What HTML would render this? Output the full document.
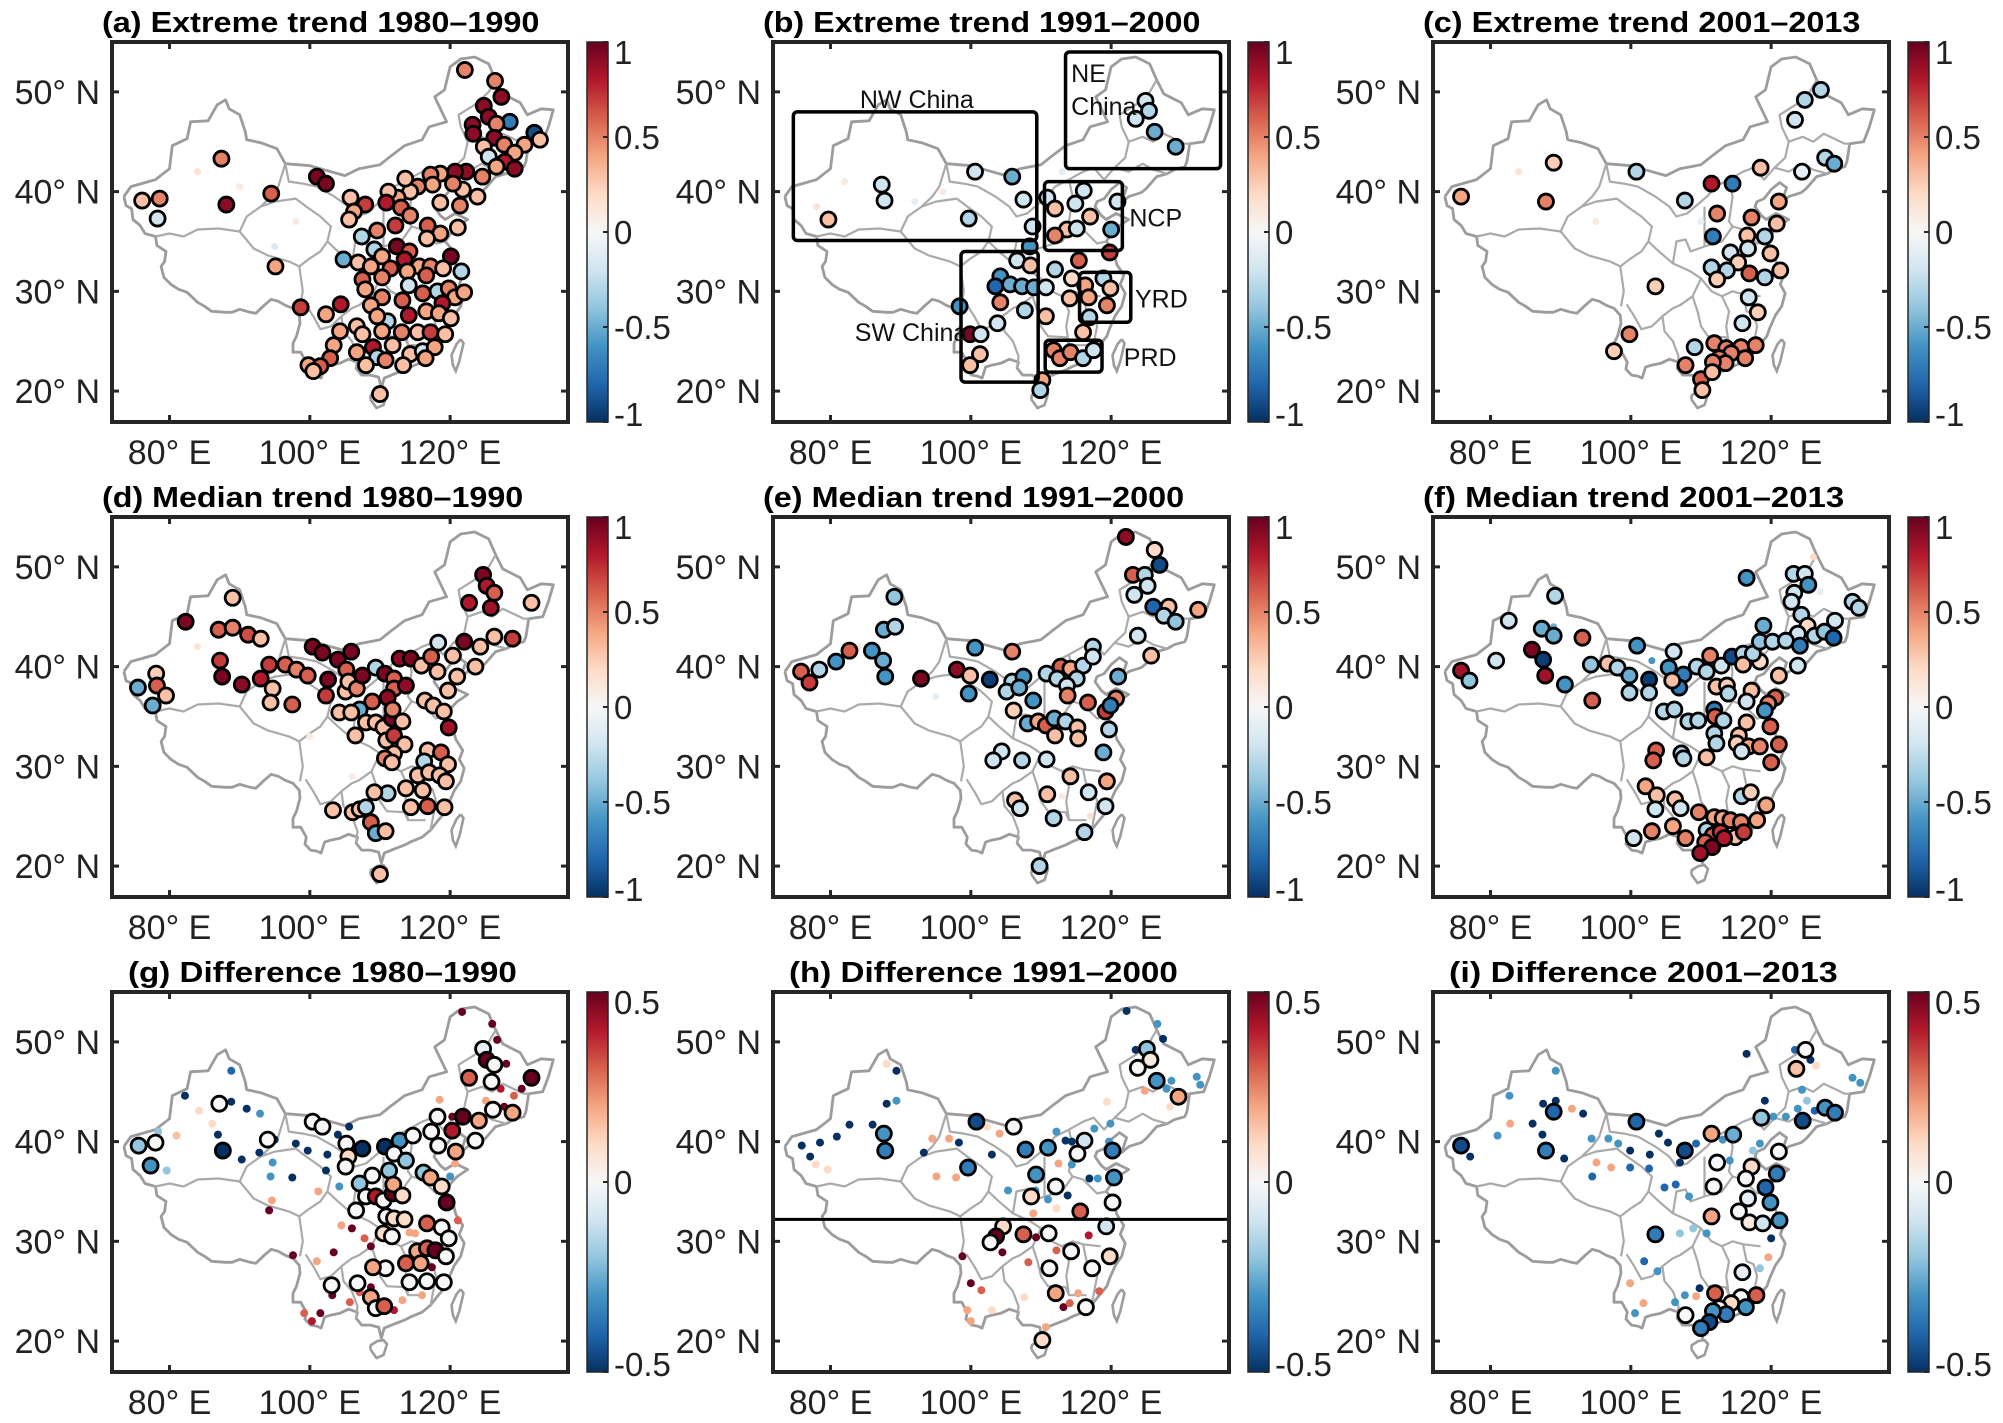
<!DOCTYPE html>
<html><head><meta charset="utf-8">
<style>
html,body{margin:0;padding:0;background:#fff;}
svg{display:block;}
text{font-family:"Liberation Sans",Arial,sans-serif;}
</style></head>
<body>
<svg id="fig" width="2003" height="1423" viewBox="0 0 2003 1423" xmlns="http://www.w3.org/2000/svg">
<defs>
<linearGradient id="rdbu" x1="0" y1="1" x2="0" y2="0">
<stop offset="0" stop-color="#053061"/><stop offset="0.1" stop-color="#2166ac"/><stop offset="0.2" stop-color="#4393c3"/><stop offset="0.3" stop-color="#92c5de"/><stop offset="0.4" stop-color="#d1e5f0"/><stop offset="0.5" stop-color="#f7f7f7"/><stop offset="0.6" stop-color="#fddbc7"/><stop offset="0.7" stop-color="#f4a582"/><stop offset="0.8" stop-color="#d6604d"/><stop offset="0.9" stop-color="#b2182b"/><stop offset="1" stop-color="#67001f"/>
</linearGradient>
</defs>
</svg>
<script>
const lonTicks=[80,100,120];
const latTicks=[20,30,40,50];
const cbTrendTicks=[1,0.5,0,-0.5,-1];
const cbDiffTicks=[0.5,0,-0.5];
const titles=["(a) Extreme trend 1980–1990","(b) Extreme trend 1991–2000","(c) Extreme trend 2001–2013","(d) Median trend 1980–1990","(e) Median trend 1991–2000","(f) Median trend 2001–2013","(g) Difference 1980–1990","(h) Difference 1991–2000","(i) Difference 2001–2013"];
const outline=[[73.5,39.5],[74.5,40.5],[76,40.8],[78,41.2],[80,42.3],[80.4,44.6],[82.5,45.3],[83,47],[85.5,47.1],[86.8,48.7],[88,49.2],[88.5,48.3],[90,47.7],[90.8,46],[91,45.2],[93,44.9],[95.3,44.3],[96.5,42.8],[100,42.6],[102,42.2],[105,41.6],[107,42.3],[110,42.7],[111.8,43.7],[113.5,44.6],[116,45.2],[117,46.5],[119.5,47],[117.8,49.5],[119.2,50.2],[120,52.5],[121.5,53.3],[123.5,53.5],[125.5,52.8],[126.5,51.2],[127.5,49.8],[130,48.9],[131,47.7],[133,48.3],[134.7,48.2],[134,46.5],[133.2,45],[131.2,44.8],[130.8,43],[130.5,42.5],[129,42.2],[128,41.8],[126.5,41.5],[125,40.3],[124.3,39.9],[122.5,39.5],[121.5,38.9],[122.2,40.4],[121.2,40.9],[120,40.2],[119,39.3],[118,39],[117.7,38.5],[118.6,37.6],[119.3,37.2],[120.7,37.8],[122.5,37.2],[121,36.5],[120.2,35.9],[119.3,35],[120.3,34.2],[120.8,32.7],[121.8,31.6],[121.3,30.7],[122,29.8],[121.5,28.5],[120.6,27.6],[119.8,26.3],[119.4,25.5],[118.2,24.5],[117.2,23.6],[116,22.9],[114.3,22.4],[113.5,22.1],[112,21.7],[110.6,21.3],[110.2,20.3],[109.8,21.4],[108.6,21.6],[107.4,21.6],[106.6,22.3],[106.8,22.9],[105.5,23.2],[104.3,22.8],[103,22.6],[102.1,22.4],[101.6,21.3],[101,21.5],[100.1,21.6],[99.3,22.2],[99.5,22.9],[98.7,23.9],[97.6,23.9],[97.6,24.8],[98.1,25.5],[98.6,26.8],[98.5,27.6],[97.6,28.3],[96.5,28.6],[95.5,29],[94.5,29.2],[93.5,28.6],[92.3,27.8],[91.5,27.9],[90,28.2],[88.9,27.9],[88,27.9],[86,28],[85,28.5],[84,28.9],[82.5,29.9],[81.3,30.2],[80.2,30.7],[79.2,31.4],[78.8,32.5],[79.3,33],[79.5,34],[78.2,34.6],[78,35.5],[76.5,35.8],[75.8,36.6],[74.8,37.2],[74.6,38.3],[73.8,38.6],[73.5,39.5]];
const hainan=[[108.6,19.2],[109.5,18.3],[110.5,18.6],[111,19.7],[110.5,20.1],[109.6,20],[108.7,19.6],[108.6,19.2]];
const taiwan=[[121.5,25.2],[121.9,24.8],[121.3,23],[120.8,22],[120.4,22.6],[120.2,23.6],[120.9,24.7],[121.5,25.2]];
const borders=[
[[78,35.5],[80,35.8],[82,35.5],[84,36.2],[87,36.3],[90,36],[91,37.5],[93,38.5],[94.5,39.5],[95.5,40.5],[96.5,42.8]],
[[90,36],[92,34.3],[94,33.6],[97,33],[98.5,32.5],[99,30],[98.6,28.5]],
[[93,38.5],[95,39],[98,39.3],[99.5,38.5],[101.5,37.5],[103,36.5],[102.5,35],[101.5,34],[100,33.3],[98.5,32.5]],
[[96.5,42.8],[97,41],[99,40.8],[101,40.5],[103.5,39.5],[105.5,38.5],[106.5,37.5],[108,37.8],[110,39],[111,39.6],[112,40.5],[114,41.2],[116,42],[117.5,42.4],[119,41.2],[120.5,42.4],[122,43.4],[122.5,45],[121.5,46.5],[121.2,47.7],[123.5,48.7],[125.5,50],[126.5,51.2]],
[[102.5,35],[104,34],[106,32.8],[108.5,32],[110,31.3],[108.8,29.5],[107,28.6],[106,28.3],[104.5,27.5],[103,26.5],[101.5,26.2],[100.5,27.5],[99.4,28.7]],
[[104.5,27.5],[104.8,26],[106,25],[106.8,23.5],[106.6,22.3]],
[[106,32.8],[106.5,35],[107.8,35.2],[108.5,34],[110.5,34.5],[110.5,36],[110.5,38.5]],
[[110,31.3],[111.5,30],[113,29.5],[114.5,30],[116,29.7],[118.5,29.5]],
[[108.8,29.5],[109.5,28],[110,26.5],[111,25.5],[113.5,25.4],[114,24.6],[116.5,24.6]],
[[113,29.5],[114,28],[113.6,26.5],[114,24.6]],
[[116,29.7],[116.5,28],[117.5,27.7],[118,26.5],[117.2,23.6]],
[[110.5,34.5],[113,35],[114.5,36.5],[116,36.2],[118,34.8],[119.3,35]],
[[114,41.2],[114.5,39.5],[114,37],[114.5,36.5]],
[[120.5,42.4],[122.5,42],[124.5,42.8],[126,42.2],[128,41.8]],
[[122.5,45],[124.5,45.5],[126,45],[127.5,45.8],[130.5,44.8],[131.2,44.8]]
];
const dataA=[[122.1,52.2,.5,1],[126.4,51.1,.5,1],[127.3,49.5,.9,1],[124.8,48.6,.9,1],[125.5,47.5,.9,1],[128.5,47,-.7,1],[126.6,46.8,.5,1],[123.2,46.7,.9,1],[123.3,45.8,.9,1],[126.3,45.4,.9,1],[127.7,44.7,.5,1],[130.6,44.7,.4,1],[132,45.9,-.9,1],[132.8,45.2,.3,1],[124.8,44.5,.3,1],[125.5,43.5,-.2,1],[129.2,43.9,.4,1],[127.8,43,.8,1],[129.2,42.3,.9,1],[126.6,42.5,.4,1],[124.6,41.5,.5,1],[122.3,42,.9,1],[120.7,42,.9,1],[123.9,39.5,.3,1],[121.4,38.6,.5,1],[118.6,38.9,.3,1],[121.8,40.2,.3,1],[120.4,40.8,.5,1],[118.6,41.8,.4,1],[117.2,41.7,.5,1],[117.5,40.7,.4,1],[115.4,40.5,.5,1],[114.3,40,.3,1],[112.5,39.4,.4,1],[111.2,40,.3,1],[113.6,41.3,.3,1],[101,41.5,.95,1],[102.3,40.8,.95,1],[105.8,39.4,.3,1],[107.9,38.7,.7,1],[106.3,38,.4,1],[105.6,37.2,.3,1],[110.9,38.9,.8,1],[113,38.4,.6,1],[114.3,37.6,.5,1],[116.8,36.6,.6,1],[118.6,35.8,.4,1],[116.7,35.3,.3,1],[121.1,36.4,.3,1],[120.1,33.5,.95,1],[112.2,36.6,.7,1],[109.6,36.1,.5,1],[107.4,35.5,-.3,1],[109.2,34.2,-.3,1],[112.4,34.5,.95,1],[114.2,34,.6,1],[110.3,33.5,.4,1],[113.5,33.2,.8,1],[115.6,32.5,.4,1],[117.2,32.5,.5,1],[119,32.3,.3,1],[121.6,32,-.3,1],[104.8,33.2,-.5,1],[106.9,32.9,.3,1],[108.7,32.5,.4,1],[111.5,32.3,.6,1],[113.9,32,.4,1],[107.5,31.2,.6,1],[110.3,31.4,.5,1],[114.1,30.6,-.2,1],[116.6,31.6,.6,1],[118.2,30,-.3,1],[119.8,30.3,.5,1],[120.7,29.4,.4,1],[122,29.9,.4,1],[107.9,30.2,.4,1],[110.3,29.4,.5,1],[113.2,29.1,.6,1],[116.1,29.8,.6,1],[118.9,28.8,.8,1],[98.7,28.4,.7,1],[104.4,28.7,.8,1],[102.3,27.7,.4,1],[108.7,28.6,.4,1],[114.1,27.6,.8,1],[116.6,28,.4,1],[118.4,27.8,.4,1],[120.1,27.3,.3,1],[111.1,27,-.3,1],[109.6,27.5,.4,1],[106.7,26.5,.3,1],[104.3,26,.4,1],[107.5,25.7,.3,1],[110.3,26,.4,1],[113.1,25.9,.5,1],[115.4,25.9,.3,1],[117.2,25.9,.7,1],[119.3,25.7,.3,1],[103.4,24.6,.4,1],[106.7,23.9,.4,1],[109,24.4,.8,1],[111.8,24.6,.3,1],[114.3,23.7,.3,1],[116.1,24,-.2,1],[117.8,24.4,.4,1],[109.6,23.4,-.3,1],[110.8,23.1,.5,1],[113.3,22.6,.3,1],[116.5,23.3,.4,1],[108,22.6,.3,1],[102.9,23.3,.6,1],[99.8,22.6,.4,1],[101.5,22.5,.6,1],[100.5,22,.3,1],[110,19.7,.3,1],[87.4,43.3,.5,1],[76.1,39.1,.3,1],[78.6,39.3,.5,1],[88.1,38.7,.9,1],[78.3,37.3,-.2,1],[94.5,39.8,.6,1],[95.1,32.5,.4,1],
[90,40.5,.1,0],[84,42,.15,0],[95,34.5,-.15,0],[98,37,.1,0]];
const dataB=[[79.7,37.2,.3,1],[87.3,40.7,-.2,1],[87.7,39.1,-.2,1],[100.6,42,-.2,1],[105.9,41.5,-.5,1],[99.7,37.3,-.3,1],[107.5,39.2,-.2,1],[108.8,36.5,-.2,1],[124.9,49.1,-.2,1],[125.4,48.1,-.3,1],[123.5,47.3,-.2,1],[126.2,46,-.5,1],[129.2,44.5,-.5,1],[116.1,40.1,-.2,1],[114.9,38.8,-.2,1],[110.9,39.4,-.2,1],[120.9,39,-.2,1],[112,38.3,.3,1],[117,37.5,.3,1],[113.7,36.2,.3,1],[115.1,36.3,-.2,1],[112,35.6,.5,1],[120,36.2,-.5,1],[108.4,34.5,-.6,1],[119.8,33.9,.7,1],[115.4,33.1,.6,1],[106.6,33.1,-.2,1],[108.5,32.6,.3,1],[112,32.2,-.3,1],[114.4,31.3,.2,1],[104.2,31.5,-.6,1],[103.5,30.5,-.8,1],[105.6,30.7,-.5,1],[107.3,30.5,-.5,1],[109,30.4,-.5,1],[110.7,30.4,-.2,1],[116.3,30.6,.4,1],[118.9,31.3,-.3,1],[119.9,30.3,.3,1],[116.8,29.4,.4,1],[114.1,29.3,.3,1],[119.4,28.6,.5,1],[104.2,28.9,.5,1],[107.7,28.1,-.3,1],[103.8,26.8,-.2,1],[110.7,27.5,.3,1],[98.4,28.5,-.6,1],[99.9,25.7,.95,1],[101.4,25.7,-.2,1],[116,25.9,.3,1],[116.9,27.4,-.3,1],[101.3,23.7,.3,1],[99.9,22.6,.3,1],[111.8,24.1,.5,1],[112.7,23.3,.5,1],[114.2,23.9,.5,1],[116,23.3,-.3,1],[117.5,24.1,-.2,1],[110.2,21.1,.4,1],[109.9,20.1,-.3,1],
[82,41,.1,0],[92,39,-.1,0],[96,40,.1,0],[78,38.5,.15,0],[113,42,-.1,0]];
const dataC=[[75.8,39.5,.4,1],[89,42.9,.25,1],[87.9,39,.5,1],[100.8,42,-.3,1],[107.7,39.1,-.3,1],[103.5,30.5,.25,1],[99.8,25.7,.5,1],[97.6,24,.25,1],[127.1,50.2,-.3,1],[124.8,49.2,-.3,1],[123.4,47.2,-.2,1],[127.7,43.4,-.3,1],[129,42.8,-.5,1],[118.5,42.4,.3,1],[124.4,42,-.1,1],[111.5,40.8,.8,1],[114.5,40.8,-.7,1],[121.1,39,.4,1],[112.3,37.8,.5,1],[117.2,37.4,.5,1],[120.8,36.8,.3,1],[111.7,35.5,-.7,1],[116.6,35.6,.3,1],[119.1,35.5,-.3,1],[116.7,34.3,-.2,1],[114.2,33.9,-.2,1],[119.9,33.8,.3,1],[115.3,32.9,.25,1],[111.5,32.4,-.3,1],[113.7,32.1,-.3,1],[116.9,31.8,.6,1],[119.1,31.4,-.3,1],[121.3,32.1,.3,1],[112.3,31.2,.25,1],[116.8,29.4,-.2,1],[118.1,27.9,.25,1],[115.9,26.8,-.2,1],[109.1,24.4,-.3,1],[111.9,24.8,.5,1],[113.6,24.3,.5,1],[115.7,24.4,.5,1],[117.8,24.6,.5,1],[116.3,23.3,.5,1],[114.3,23.8,.5,1],[112.6,23.3,.5,1],[113.5,22.8,.5,1],[111.7,22.9,.5,1],[107.8,22.6,.5,1],[110,21.2,.6,1],[111.6,21.9,.3,1],[110.2,20.1,.3,1],
[84,42,.15,0],[95,37,.1,0],[110,37,-.1,0]];
const dataD=[[89,46.9,.3,1],[82.3,44.5,.95,1],[87,43.7,.6,1],[89,43.9,.5,1],[91.2,43.2,.65,1],[93,42.8,.3,1],[78.1,39.3,.25,1],[75.5,37.9,-.5,1],[78.2,38.1,.6,1],[77.6,36.1,-.5,1],[79.5,37.1,.3,1],[87.2,40.6,.7,1],[87.5,39,.95,1],[90.3,38.2,.9,1],[93,38.8,.8,1],[94.2,40.2,.7,1],[96.5,40.2,.6,1],[98.1,39.7,.5,1],[99.7,39.1,.6,1],[94.7,37.8,.3,1],[94.4,36.4,.3,1],[97.5,36.2,.6,1],[100.4,42,.95,1],[101.8,41.4,.95,1],[104,40.7,.95,1],[105.9,41.5,.95,1],[105.2,39.7,.6,1],[102.6,38.7,.95,1],[102.3,37.1,.7,1],[105.1,37.5,.3,1],[105.5,38.5,.3,1],[106.7,37.8,.5,1],[107.5,39.1,.95,1],[109.4,39.9,-.3,1],[110.7,39.3,.95,1],[112,38.8,.6,1],[112,37.8,.6,1],[113.7,38.1,.9,1],[111.1,36.9,.9,1],[108.9,36.5,.6,1],[107.1,35.7,-.5,1],[104.2,35.4,.3,1],[105.9,35.4,.3,1],[108,34.4,.3,1],[109.4,34.4,.3,1],[110.5,33.9,.3,1],[111.7,34.8,.95,1],[111.8,35.7,.5,1],[113.2,34.5,.3,1],[106.5,33.1,.3,1],[110.9,32.6,.3,1],[112,33.1,.7,1],[113.5,32.2,.3,1],[112,31.3,.3,1],[110.7,30.8,.5,1],[111.7,30.4,.3,1],[112.8,40.8,.9,1],[114.4,40.8,.95,1],[115.9,40.1,.3,1],[117.3,41,.6,1],[118.3,42.4,-.2,1],[120.4,41.1,.3,1],[122,42.5,.95,1],[124.3,42,.3,1],[126.3,43,.3,1],[128.9,42.8,.7,1],[118.2,39.5,.3,1],[121,39,.3,1],[123.6,40,.3,1],[119.7,37.6,.3,1],[116.4,36.6,.3,1],[117.6,36.1,.3,1],[119.1,35.5,.3,1],[119.8,33.9,.85,1],[116.8,31.6,.3,1],[118.7,31.4,.6,1],[119.7,30.2,.3,1],[116.3,30.5,-.3,1],[115.4,29.1,.3,1],[117,29.4,.3,1],[118.5,29.1,.3,1],[119.4,28.5,.3,1],[113.7,27.8,.3,1],[116.1,27.6,.3,1],[111.1,27.3,-.3,1],[109.2,27.4,.3,1],[114.4,25.9,.3,1],[116.8,26,.6,1],[119.2,25.9,.3,1],[103.3,25.6,.3,1],[106.1,25.4,.3,1],[107.1,25.7,.3,1],[108,25.9,-.3,1],[108.7,24.4,.6,1],[109.4,23.3,-.5,1],[110.8,23.5,.3,1],[124.7,49.2,.95,1],[125.2,48.1,.8,1],[126.3,47.4,.6,1],[122.7,46.4,.8,1],[125.8,45.9,.85,1],[131.6,46.4,.3,1],[110,19.2,.3,1],
[84,42,.15,0],[100,33,.1,0],[113,28,.15,0],[106,29,.1,0]];
const dataE=[[122.1,53,.9,1],[126.2,51.7,.2,1],[126.9,50.2,-.9,1],[123.1,49.2,.6,1],[124.8,49.2,-.3,1],[125.2,48.1,-.2,1],[123.3,47.2,-.2,1],[126,46,-.8,1],[128.2,46,.3,1],[127.5,45.1,-.3,1],[129.2,44.5,-.4,1],[132.4,45.7,.4,1],[123.8,43.1,-.2,1],[125.7,41.1,.3,1],[89.1,47,-.4,1],[87.6,43.7,-.5,1],[89.2,44,-.3,1],[85.9,41.6,-.6,1],[87.5,40.6,-.5,1],[87.8,39,-.6,1],[82.7,41.6,.6,1],[80.8,40.5,-.6,1],[78.4,39.7,-.3,1],[75.8,39.5,.6,1],[77,38.4,.7,1],[92.9,38.8,.95,1],[100.6,41.9,-.6,1],[105.9,41.5,.5,1],[98,39.7,.9,1],[99.9,39.1,.3,1],[99.7,37.3,-.6,1],[102.7,38.7,-.95,1],[105.9,38.5,-.3,1],[107.5,39,-.6,1],[105.1,37.5,-.3,1],[106.9,37.9,-.5,1],[108.9,36.6,-.6,1],[106.1,35.6,.25,1],[110.8,39.3,-.3,1],[112.8,40,.6,1],[114.2,39.8,.4,1],[116,40.1,-.3,1],[117.4,42,-.3,1],[117.4,41,-.2,1],[112.3,38.8,-.3,1],[115.1,38.8,-.3,1],[113.7,38.1,-.2,1],[113.8,37.1,.5,1],[116.7,36.4,.6,1],[121,39,-.5,1],[120.7,36.8,.5,1],[119.2,35.5,.7,1],[119.9,36.1,-.7,1],[108.1,34.3,-.5,1],[109.6,34.5,.4,1],[110.7,34.1,.6,1],[111.9,34.8,-.5,1],[113.5,34.5,-.3,1],[112,33.1,.3,1],[115.2,33.9,.3,1],[115.3,32.8,.3,1],[119.7,33.7,-.3,1],[118.9,31.4,-.5,1],[104.4,31.5,-.2,1],[103.2,30.6,-.2,1],[107.3,30.6,-.3,1],[110.8,30.7,-.2,1],[114.2,29,.3,1],[119.4,28.5,.4,1],[116.8,27.4,-.2,1],[110.9,27.2,.3,1],[106.3,26.6,.3,1],[107,25.8,-.2,1],[111.8,24.8,-.3,1],[119.2,26,-.2,1],[116.2,23.4,-.3,1],[109.8,20,-.3,1],
[84,42,.1,0],[95,37,-.1,0],[113,27,.1,0],[117,25,.15,0]];
const dataF=[[89.2,47.1,-.3,1],[82.6,44.6,-.2,1],[87.3,43.8,-.5,1],[89,43.1,-.5,1],[93.1,42.9,.6,1],[80.8,40.6,-.2,1],[85.9,41.7,.95,1],[87.5,40.7,-.95,1],[87.8,39.1,.85,1],[75.8,39.6,.85,1],[77,38.6,-.4,1],[90.6,38.2,-.6,1],[94.5,36.6,.6,1],[94.3,40.2,-.4,1],[96.7,40.3,.3,1],[98.1,39.9,-.3,1],[99.8,39.1,-.5,1],[99.8,37.4,-.3,1],[100.9,42.1,-.6,1],[102.6,38.7,-.95,1],[102.6,37.4,-.3,1],[106.1,41.5,-.2,1],[105.4,39.9,-.6,1],[107.5,39.2,-.7,1],[106.9,37.9,-.7,1],[105.9,38.6,.3,1],[109.4,40,-.3,1],[110.8,39.5,-.3,1],[112.9,40.1,-.2,1],[111.3,41.1,.5,1],[114.4,41,-.9,1],[116,41.3,-.3,1],[116,40.2,.3,1],[118.4,40.5,.2,1],[117.4,41.3,-.3,1],[116.5,48.9,-.6,1],[123.2,49.3,-.3,1],[124.8,49.3,-.2,1],[125.3,48.2,-.6,1],[123.3,47.4,-.2,1],[122.9,46.5,-.2,1],[124.3,45.2,-.3,1],[125.2,44.1,.2,1],[123.8,43.3,-.2,1],[126.2,43.1,-.3,1],[127.6,43.5,-.4,1],[129.1,44.6,-.2,1],[128.9,42.9,-.8,1],[131.6,46.5,-.3,1],[132.5,45.9,-.3,1],[118.9,44.1,-.5,1],[118.4,42.5,-.4,1],[120.2,42.5,-.3,1],[122.1,42.6,-.3,1],[124.1,42.1,-.7,1],[123.8,40.1,-.2,1],[121.1,39.1,.3,1],[112.2,38,.3,1],[113.7,38.1,.25,1],[113.9,37.3,-.3,1],[117.2,37.6,.3,1],[116.5,36.5,-.2,1],[120.6,36.9,.6,1],[119.6,36.3,.5,1],[119.1,35.6,-.6,1],[111.9,35.7,-.7,1],[112,35,.6,1],[113.2,34.6,-.3,1],[116.5,34.4,.3,1],[119.9,34,.6,1],[104.7,35.5,-.3,1],[106.2,35.7,-.3,1],[108.2,34.5,-.3,1],[109.6,34.6,-.3,1],[111.9,33.3,-.3,1],[112.2,32.3,-.3,1],[115.4,33.1,.3,1],[115.1,32.3,.25,1],[116.8,32,.4,1],[118.4,32,.5,1],[121.1,32.2,.6,1],[115.8,31.5,-.2,1],[120,30.4,.6,1],[103.6,31.6,.6,1],[103.2,30.6,.6,1],[107.2,31.3,-.3,1],[107.5,30.8,-.3,1],[110.8,30.9,.3,1],[102.1,28,.4,1],[103.7,27.1,.3,1],[103.5,25.7,-.2,1],[106.3,26.7,.3,1],[107.1,25.8,-.2,1],[115.8,27,-.3,1],[117.1,27.4,.25,1],[119.3,26.1,.4,1],[109.7,25.4,.5,1],[111.9,24.9,.4,1],[113.1,24.8,.4,1],[114.2,24.6,.5,1],[115.7,24.4,.5,1],[118,24.6,.4,1],[103,23.5,.5,1],[106,24,.4,1],[107.8,22.8,.5,1],[110.8,23.6,-.3,1],[111.7,23.1,.6,1],[112.8,23.4,.7,1],[114.9,22.9,.3,1],[116.1,23.4,.7,1],[113.3,22.8,.8,1],[110.6,22.4,.6,1],[111.6,21.9,.95,1],[109.9,21.3,.85,1],[100.4,22.8,-.2,1],
[89,44,-.5,0],[103,40.6,-.6,0],[126,51,.2,0],[127,47.5,-.1,0]];
const dataG=[[124.7,49.3,-.05,1],[125.2,48.2,.5,1],[126.3,47.7,0,1],[122.7,46.4,.3,1],[125.9,46,0,1],[131.6,46.4,.5,1],[87.1,43.8,0,1],[78,39.9,0,1],[75.6,39.6,-.2,1],[77.3,37.6,-.3,1],[87.6,39.1,-.5,1],[94,40.2,0,1],[100.4,42,0,1],[101.8,41.5,0,1],[105.2,39.8,0,1],[107.5,39.3,-.5,1],[105.5,38.5,.1,1],[105.1,37.5,0,1],[110.7,39.5,-.5,1],[112.8,40.1,-.3,1],[112,38.8,0,1],[113.7,38.1,-.2,1],[111.3,37.1,-.2,1],[114.7,40.6,0,1],[118.2,42.5,0,1],[121.8,42.5,.5,1],[117.3,41,0,1],[120.3,41.1,.4,1],[118.3,39.6,0,1],[120.8,39,.2,1],[123.6,40.1,0,1],[124.1,42.1,.2,1],[126.1,43.2,0,1],[128.9,42.9,.2,1],[108.9,36.6,0,1],[107.1,35.8,-.2,1],[108,34.5,0,1],[109.4,34.5,.4,1],[110.5,34.1,0,1],[111.8,34.8,.5,1],[111.9,35.7,.2,1],[113.2,34.6,.1,1],[106.6,33.1,0,1],[110.9,32.5,0,1],[112,32.3,.1,1],[113.5,32.2,.1,1],[110.5,30.8,.1,1],[111.7,30.5,0,1],[116.2,36.9,-.2,1],[117.2,36.4,.2,1],[118.8,35.5,.1,1],[119.5,33.9,.5,1],[116.7,31.8,.3,1],[118.8,31.4,0,1],[119.8,30.3,0,1],[115.3,29,.2,1],[116.7,29.3,.3,1],[117.9,29.1,.5,1],[119.4,28.5,0,1],[113.7,27.8,.3,1],[115.8,27.8,.2,1],[110.8,27.3,0,1],[109,27.4,.2,1],[103.1,25.6,0,1],[106.8,25.8,0,1],[108.7,24.4,.2,1],[109.4,23.3,0,1],[110.6,23.5,.3,1],[114.2,25.9,0,1],[116.7,26,0,1],[119.1,25.9,0,1],
[121.7,53,.5,0],[126,51.8,.5,0],[126.7,50.2,.5,0],[128,47.8,.5,0],[130.2,45.3,.5,0],[127.2,45.3,.4,0],[118.5,44.2,.2,0],[125.1,44.1,.2,0],[129.1,44.6,.3,0],[88.8,47.1,-.4,0],[82.2,44.6,-.5,0],[88.8,44,-.5,0],[91,43.3,-.5,0],[92.9,42.8,-.3,0],[84.2,43.1,.1,0],[86.1,41.8,.1,0],[81,40.6,.15,0],[78.4,41,-.2,0],[86.9,40.7,-.5,0],[79.6,37.1,-.2,0],[90.3,38.2,-.5,0],[92.8,38.9,-.5,0],[94.7,37.9,-.3,0],[94.4,36.5,-.3,0],[97.5,36.4,-.5,0],[95,40.2,-.5,0],[98,39.8,-.5,0],[99.7,39.1,-.5,0],[102.5,38.7,-.5,0],[102.3,37.1,-.5,0],[105.6,41.5,-.5,0],[104,40.7,-.5,0],[104.2,35.5,-.3,0],[101.2,35,.2,0],[94.6,34.1,.2,0],[94.2,33.1,.5,0],[97.6,28.6,.5,0],[103.4,28.9,.5,0],[101,28,.2,0],[104.5,31.6,.2,0],[106,31.3,.5,0],[108.7,29.5,.5,0],[107.8,30.3,.3,0],[103.2,24.6,.5,0],[101.5,22.8,.5,0],[100.3,22,.4,0],[99.2,22.8,.3,0],[105.7,23.9,.3,0],[107.1,24.9,.3,0],[108.7,25.4,.5,0],[112,23.1,.4,0],[113.2,24.1,.2,0],[116,24.6,.2,0],[117.4,27.4,.5,0],[115,30.8,.2,0],[120,36.5,-.3,0],[120.7,37.8,.2,0],[120.3,42.5,.5,0],[127.7,43.5,.5,0],[114.2,30.9,.2,0],[121.1,32.1,.3,0]];
const dataH=[[125.1,49.3,-.2,1],[125.6,48.2,.05,1],[123.8,47.4,0,1],[126.5,46.1,-.3,1],[129.6,44.5,.2,1],[87.6,40.8,-.3,1],[87.8,39.1,-.35,1],[100.8,42,-.45,1],[106.1,41.5,0,1],[99.6,37.4,-.35,1],[107.8,39.2,-.35,1],[111,39.4,-.3,1],[116.2,40.1,-.1,1],[115.2,38.8,0,1],[120.2,39.1,-.35,1],[109.3,36.7,-.3,1],[112.1,35.5,0,1],[108.6,34.5,.1,1],[120.4,36.4,-.3,1],[120.2,33.9,0,1],[115.6,33,.3,1],[119.3,31.5,-.1,1],[104.6,31.5,.1,1],[103.6,30.5,.5,1],[102.8,29.9,0,1],[107.5,30.7,.3,1],[111.1,30.8,0,1],[114.3,29,0,1],[119.8,28.5,.1,1],[111.2,27.3,0,1],[117.3,27.3,0,1],[112.1,24.8,.2,1],[116.4,23.4,0,1],[110.2,20.1,.1,1],
[122.2,53.1,-.5,0],[127.4,50.3,-.5,0],[123.5,49.2,-.5,0],[126.6,51.8,-.3,0],[128.6,46.1,-.3,0],[132.2,46.5,-.3,0],[132.7,45.7,-.3,0],[127.9,45.3,-.3,0],[124.8,45.1,.2,0],[119.4,44,.1,0],[128.4,43.5,.1,0],[89.4,47.1,-.5,0],[88,47.8,.1,0],[89.4,44.1,-.3,0],[88,43.8,-.5,0],[82.7,41.7,-.5,0],[86,41.7,-.5,0],[80.9,40.5,-.5,0],[78.5,39.9,-.5,0],[75.9,39.6,-.5,0],[77.1,38.5,-.5,0],[77.9,37.7,.1,0],[79.6,37.2,.1,0],[93.3,38.9,-.5,0],[94.5,40.3,.2,0],[96.9,40.3,.2,0],[98.3,39.9,-.5,0],[95.1,36.5,.2,0],[97.9,36.4,.2,0],[103,38.7,-.5,0],[102.3,41.5,.1,0],[104.1,40.8,.2,0],[112.2,41,-.3,0],[113.5,40.1,-.5,0],[114.4,40,-.5,0],[117.6,41.3,-.3,0],[119.9,41.8,-.3,0],[119.7,40,-.3,0],[116.9,36.3,-.5,0],[118.1,36.3,-.3,0],[113.8,34.6,-.5,0],[111,34.2,-.3,0],[112.2,33.3,.1,0],[108.9,32.8,.2,0],[114.4,37.7,-.3,0],[112.5,37.8,.2,0],[105.3,35.1,-.3,0],[109.2,35.1,-.3,0],[98.8,28.5,.5,0],[100,25.8,.5,0],[109.3,30.4,.5,0],[116.8,30.6,.4,0],[104.5,28.9,.5,0],[108.2,27.9,.3,0],[112.2,29.1,.3,0],[113.2,23.4,.5,0],[114.1,23.8,.3,0],[118.3,25,.3,0],[99.5,23.1,.2,0],[101.5,25.1,.3,0],[100,22,.2,0],[103,23.1,.1,0],[110.7,21.4,.2,0],[115.3,24.8,.2,0],[107.6,24.4,.1,0],[120.4,33.5,.5,0]];
const dataI=[[124.9,49.2,0,1],[123.6,47.3,.15,1],[127.7,43.4,-.3,1],[129.1,42.9,-.35,1],[124.5,42.1,-.45,1],[118.6,42.4,-.2,1],[89,43,-.4,1],[75.8,39.6,-.45,1],[87.9,39.1,-.35,1],[100.8,42,-.4,1],[107.7,39.1,-.45,1],[111.5,40.8,.2,1],[114.6,40.7,-.25,1],[121.1,39,0,1],[112.3,37.9,0,1],[117.2,37.5,.1,1],[120.8,36.8,-.35,1],[116.4,36.3,0,1],[119.2,35.4,-.4,1],[111.8,35.5,0,1],[116.7,34.3,-.05,1],[119.9,33.9,-.3,1],[115.4,33,0,1],[111.5,32.5,.2,1],[116.9,31.9,.05,1],[118.8,31.8,-.1,1],[121.2,32.1,-.3,1],[103.5,30.7,-.35,1],[115.9,26.9,-.05,1],[112,24.8,.3,1],[115.7,24.4,0,1],[117.9,24.6,.3,1],[114.3,23.8,.1,1],[116.4,23.4,-.3,1],[112.6,23.3,0,1],[113.6,22.7,-.35,1],[111.7,23,-.3,1],[107.8,22.6,0,1],[111.2,21.9,-.45,1],[110,21.3,-.35,1],
[116.5,48.8,-.5,0],[123.4,49.2,-.4,0],[125.6,48.2,-.5,0],[126.4,47.6,.1,0],[131.6,46.4,-.3,0],[132.7,45.9,-.3,0],[124.4,45.2,-.3,0],[125.1,44.1,-.2,0],[123.8,43.3,-.3,0],[126.2,43.1,-.4,0],[119.1,44.1,-.5,0],[122.1,42.5,-.3,0],[120.3,42.5,-.3,0],[89.3,47.1,-.3,0],[82.7,44.6,-.3,0],[87.5,43.8,-.5,0],[89.3,44.1,-.5,0],[91.6,43.3,.2,0],[93.2,42.8,-.5,0],[82.8,41.8,.2,0],[86,41.8,-.5,0],[81,40.6,-.3,0],[87.4,40.7,-.5,0],[77.1,38.5,-.5,0],[90.5,38.3,-.5,0],[94.4,40.3,-.3,0],[96.8,40.3,-.3,0],[98.2,39.8,-.3,0],[99.9,39.1,-.5,0],[102.7,38.7,-.5,0],[104,40.8,-.5,0],[105.3,39.9,-.5,0],[107,37.9,-.5,0],[95.1,37.9,.2,0],[97.2,37.4,.2,0],[94.5,36.5,-.4,0],[99.9,37.4,-.4,0],[102.6,37.3,-.4,0],[104.8,35.4,-.4,0],[106.4,35.7,-.4,0],[108.3,34.5,-.3,0],[109.3,39.8,-.4,0],[113.1,40.2,-.3,0],[114.1,38.1,-.3,0],[117.4,39.1,-.2,0],[118.4,39.8,-.3,0],[101.9,28,-.4,0],[103.8,27,-.3,0],[99.9,25.8,.2,0],[101.8,23.8,.2,0],[100.6,22.8,-.3,0],[106.3,23.9,-.3,0],[107.7,24.6,-.3,0],[109.3,24.5,.2,0],[109.8,25.3,-.5,0],[120,30.3,-.5,0],[119.6,28.4,.2,0],[118.4,27.3,-.2,0],[110.8,30.8,-.3,0],[107,30.8,-.2,0],[108.9,31.3,-.2,0]];
const panelData=[dataA,dataB,dataC,dataD,dataE,dataF,dataG,dataH,dataI];

const NS='http://www.w3.org/2000/svg';
const svg=document.getElementById('fig');
const colX=[112,773,1433], rowY=[42,517,992], PW=456, PH=380;
const LON0=71.8, LON1=136.8, LAT0=16.9, LAT1=55;
const stops=[[5,48,97],[33,102,172],[67,147,195],[146,197,222],[209,229,240],[247,247,247],[253,219,199],[244,165,130],[214,96,77],[178,24,43],[103,0,31]];
function cmap(v,cmax){let t=(v/cmax+1)/2;t=Math.max(0,Math.min(1,t));const f=t*10,i=Math.min(9,Math.floor(f)),r=f-i;const a=stops[i],b=stops[i+1];return 'rgb('+a.map((c,k)=>Math.round(c+(b[k]-c)*r)).join(',')+')';}
function mk(tag,attrs,parent){const e=document.createElementNS(NS,tag);for(const k in attrs)e.setAttribute(k,attrs[k]);(parent||svg).appendChild(e);return e;}

panelData.forEach((data,p)=>{
  const x0=colX[p%3], y0=rowY[Math.floor(p/3)];
  const diff=p>=6, cmax=diff?0.5:1;
  const sx=lon=>x0+(lon-LON0)/(LON1-LON0)*PW;
  const sy=lat=>y0+(LAT1-lat)/(LAT1-LAT0)*PH;
  const g=mk('g',{});
  
  
  const tOff=diff?16:-10;
  const t=mk('text',{x:x0+tOff,y:y0-10,'font-size':29,'font-weight':'bold',fill:'#000',textLength:titles[p].length*16.2,lengthAdjust:'spacingAndGlyphs'},g);
  t.textContent=titles[p];
  
  
  const clip=mk('clipPath',{id:'clip'+p},g);mk('rect',{x:x0,y:y0,width:PW,height:PH},clip);
  const mg=mk('g',{'clip-path':'url(#clip'+p+')'},g);
  const poly=pts=>pts.map(q=>sx(q[0]).toFixed(1)+','+sy(q[1]).toFixed(1)).join(' ');
  const ol=mk('polyline',{points:poly(outline),fill:'none',stroke:'#9c9c9c','stroke-width':2.8,'stroke-linejoin':'round'},mg);
  
  
  borders.forEach(b=>{const l=mk('polyline',{points:poly(b),fill:'none',stroke:'#aaaaaa','stroke-width':2.2,'stroke-linejoin':'round'},mg);
    
    });
  [hainan,taiwan].forEach(b=>{const l=mk('polyline',{points:poly(b),fill:'none',stroke:'#9c9c9c','stroke-width':2.6},mg);
    
    });
  data.filter(d=>!d[3]).forEach(d=>{const c=mk('circle',{cx:sx(d[0]),cy:sy(d[1]),r:diff?4:3.5,fill:cmap(d[2],cmax)},mg);
    
    });
  data.filter(d=>d[3]).forEach(d=>{const c=mk('circle',{cx:sx(d[0]),cy:sy(d[1]),r:7.5,fill:cmap(d[2],cmax),stroke:'#000','stroke-width':2.8},mg);
    
    });
  if(p===1){
    const boxes=[[74.7,109.4,35.1,48.0,'NW China'],[113.5,135.6,42.3,54.0,'NE China'],[110.5,121.6,34.1,41.0,'NCP'],[98.6,109.6,20.9,34.0,'SW China'],[115.5,122.8,26.9,31.9,'YRD'],[110.6,118.7,21.9,25.1,'PRD']];
    boxes.forEach(b=>{const r=mk('rect',{x:sx(b[0]),y:sy(b[3]),width:sx(b[1])-sx(b[0]),height:sy(b[2])-sy(b[3]),rx:4,fill:'none',stroke:'#000','stroke-width':3.5},mg);
      
      });
    const labs=[[92.3,49.3,'NW China','middle'],[114.3,51.9,'NE','start'],[114.3,48.6,'China','start'],[122.6,37.4,'NCP','start'],[123.4,29.3,'YRD','start'],[121.8,23.4,'PRD','start'],[99.5,25.9,'SW China','end']];
    labs.forEach(l=>{const tx=mk('text',{x:sx(l[0]),y:sy(l[1])+9,'font-size':25,fill:'#111','text-anchor':l[3]},g);tx.textContent=l[2];
      
      });
  }
  if(p===7){const hl=mk('line',{x1:x0,x2:x0+PW,y1:sy(32.2),y2:sy(32.2),stroke:'#000','stroke-width':3},g);
    
    }
  const fr=mk('rect',{x:x0,y:y0,width:PW,height:PH,fill:'none',stroke:'#262626','stroke-width':4},g);
  
  
  lonTicks.forEach(lon=>{const x=sx(lon);
    mk('line',{x1:x,x2:x,y1:y0+PH,y2:y0+PH-7,stroke:'#262626','stroke-width':3},g);
    mk('line',{x1:x,x2:x,y1:y0,y2:y0+7,stroke:'#262626','stroke-width':3},g);
    const tx=mk('text',{x:x,y:y0+PH+42,'font-size':34,fill:'#222','text-anchor':'middle'},g);tx.textContent=lon+'° E';
    
    });
  latTicks.forEach(lat=>{const y=sy(lat);
    mk('line',{x1:x0,x2:x0+7,y1:y,y2:y,stroke:'#262626','stroke-width':3},g);
    mk('line',{x1:x0+PW,x2:x0+PW-7,y1:y,y2:y,stroke:'#262626','stroke-width':3},g);
    const tx=mk('text',{x:x0-12,y:y+12,'font-size':34,fill:'#222','text-anchor':'end'},g);tx.textContent=lat+'° N';
    
    });
  const cbx=x0+PW+19, cbw=21;
  const cb=mk('rect',{x:cbx,y:y0,width:cbw,height:PH,fill:'url(#rdbu)',stroke:'#262626','stroke-width':1.5},g);
  
  
  const ticks=diff?cbDiffTicks:cbTrendTicks;
  ticks.forEach(v=>{const y=y0+(cmax-v)/(2*cmax)*PH;
    mk('line',{x1:cbx+cbw-5,x2:cbx+cbw,y1:y,y2:y,stroke:'#262626','stroke-width':2},g);
    const yy=Math.min(Math.max(y+12,y0+22),y0+PH+4);
    const tx=mk('text',{x:cbx+cbw+6,y:yy,'font-size':33,fill:'#222'},g);tx.textContent=String(v);
    
    });
});
</script>
</body></html>
